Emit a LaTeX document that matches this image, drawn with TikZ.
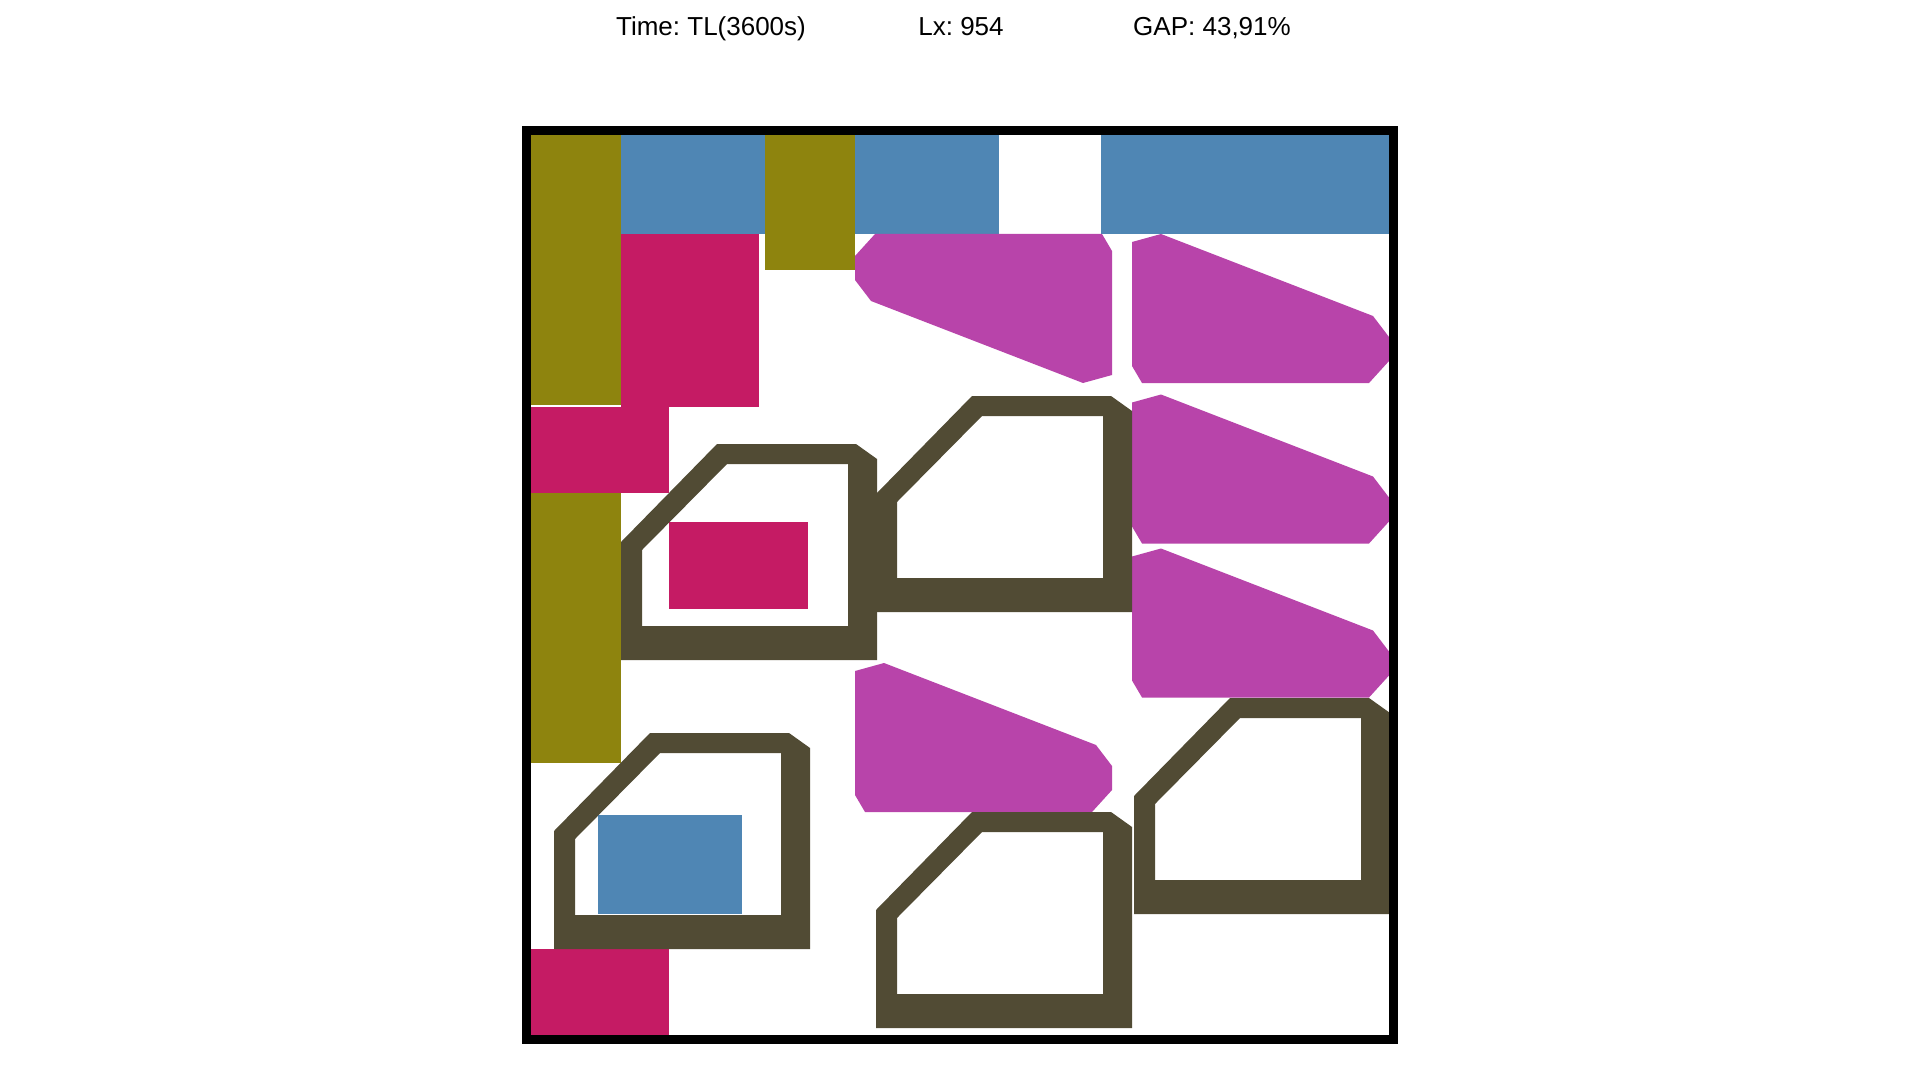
\documentclass[tikz,border=0pt]{standalone}
\usepackage{fontspec}
\setmainfont{Liberation Sans}
\frenchspacing
\definecolor{olivec}{RGB}{142,132,14}
\definecolor{bluec}{RGB}{79,134,180}
\definecolor{crimc}{RGB}{197,27,100}
\definecolor{magc}{RGB}{184,68,170}
\definecolor{darkc}{RGB}{81,75,52}
\tikzset{
  lbl/.style={anchor=base, inner sep=0pt, font=\fontsize{13pt}{15pt}\selectfont},
  frameline/.style={draw=black, line width=4.5pt},
  darkpiece/.pic={\fill[darkc, even odd rule]
      (0,216) -- (0,98) -- (96,0) -- (235,0) -- (256,15) -- (256,216) -- cycle
      (21,182) -- (21,106) -- (106,20) -- (227,20) -- (227,182) -- cycle;},
  magA/.pic={\fill[magc] (0,8) -- (29,0) -- (241,82) -- (257,103) -- (257,127) -- (237,149) -- (10,149) -- (0,132) -- cycle;},
  magB/.pic={\fill[magc] (257,141) -- (228,149) -- (16,67) -- (0,46) -- (0,22) -- (20,0) -- (247,0) -- (257,17) -- cycle;}
}
\begin{document}
\begin{tikzpicture}[x=0.5pt,y=-0.5pt]
\useasboundingbox[fill=white] (0,0) rectangle (1920,1080);
% header
\node[lbl] (time) at (711,36) {Time: TL(3600s)};
\node[lbl] (lx) at (961,36) {Lx: 954};
\node[lbl] (gap) at (1212,36) {GAP: 43,91\%};
% rectangles
\fill[olivec] (531,135) rectangle (621,405);
\fill[bluec] (621,135) rectangle (765,234);
\fill[crimc] (621,234) rectangle (759,407);
\fill[olivec] (765,135) rectangle (855,270);
\fill[bluec] (855,135) rectangle (999,234);
\fill[bluec] (1101,135) rectangle (1389,234);
\fill[crimc] (531,407) rectangle (669,493);
\fill[olivec] (531,493) rectangle (621,763);
\fill[crimc] (669,522) rectangle (808,609);
\fill[bluec] (598,815) rectangle (742,914);
\fill[crimc] (531,949) rectangle (669,1035);
% magenta pieces
\pic at (855,234) {magB};
\pic at (1132,234) {magA};
\pic at (1132,394.5) {magA};
\pic at (1132,548.5) {magA};
\pic at (855,663) {magA};
% dark pieces
\pic at (621,444) {darkpiece};
\pic at (876,396) {darkpiece};
\pic at (554,733) {darkpiece};
\pic at (876,812) {darkpiece};
\pic at (1134,698) {darkpiece};
% frame
\draw[frameline] (526.5,130.5) rectangle (1393.5,1039.5);
\end{tikzpicture}
\end{document}
